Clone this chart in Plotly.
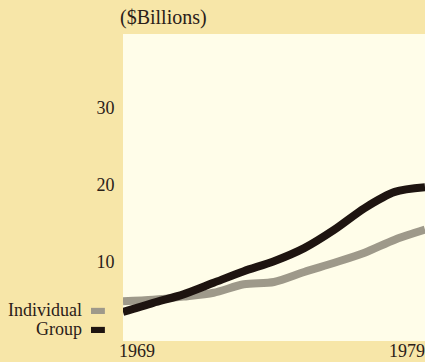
import plotly.graph_objects as go

years = list(range(1969, 1980))
individual = [4.9, 5.1, 5.5, 6.0, 7.1, 7.4, 8.7, 9.9, 11.2, 12.9, 14.2]
group = [3.5, 4.7, 5.8, 7.3, 8.8, 10.1, 11.8, 14.2, 17.0, 19.1, 19.7]
y_ticks = [10, 20, 30]
x_labels = ["1969", "1979"]
series_names = ["Individual", "Group"]

PAPER = "#f7e6a8"
PLOT = "#fffde9"
GRAY = "#9e998a"
BLACK = "#1e1410"
TEXT = "#2a2018"
FONT = "Liberation Serif, Times New Roman, serif"

fig = go.Figure()
fig.add_trace(go.Scatter(x=years, y=individual, mode="lines", name=series_names[0],
                         line=dict(color=GRAY, width=8, shape="spline", smoothing=0.8)))
fig.add_trace(go.Scatter(x=years, y=group, mode="lines", name=series_names[1],
                         line=dict(color=BLACK, width=8, shape="spline", smoothing=0.8)))

fig.update_layout(
    width=425, height=362,
    margin=dict(l=123, r=0, t=34, b=21),
    paper_bgcolor=PAPER, plot_bgcolor=PLOT,
    showlegend=False,
    font=dict(family=FONT, size=18, color=TEXT),
    xaxis=dict(range=[years[0], years[-1]], showgrid=False, zeroline=False,
               showticklabels=False, ticks="", showline=False),
    yaxis=dict(range=[-0.26, 39.6], showgrid=False, zeroline=False,
               tickvals=y_ticks, ticktext=[str(v) for v in y_ticks],
               ticks="outside", ticklen=4, tickcolor="rgba(0,0,0,0)",
               showline=False, tickfont=dict(family=FONT, size=18, color=TEXT)),
)

annotations = [
    dict(text="($Billions)", xref="paper", yref="paper", x=0, y=1, xanchor="left",
         yanchor="bottom", xshift=-5, yshift=3, showarrow=False,
         font=dict(family=FONT, size=20, color=TEXT)),
    dict(text=x_labels[0], xref="paper", yref="paper", x=0, y=0, xanchor="left",
         yanchor="top", xshift=-6, yshift=2, showarrow=False,
         font=dict(family=FONT, size=18, color=TEXT)),
    dict(text=x_labels[1], xref="paper", yref="paper", x=1, y=0, xanchor="right",
         yanchor="top", xshift=2, yshift=2, showarrow=False,
         font=dict(family=FONT, size=18, color=TEXT)),
    dict(text=series_names[0], xref="paper", yref="paper", x=0, y=0.101,
         xanchor="right", yanchor="middle", xshift=-39, showarrow=False,
         font=dict(family=FONT, size=18, color=TEXT)),
    dict(text=series_names[1], xref="paper", yref="paper", x=0, y=0.039,
         xanchor="right", yanchor="middle", xshift=-39, showarrow=False,
         font=dict(family=FONT, size=18, color=TEXT)),
]
fig.update_layout(annotations=annotations)

# legend swatches (paper coordinates, just left of the plot area)
fig.add_shape(type="rect", xref="paper", yref="paper", x0=-0.106, x1=-0.060,
              y0=0.088, y1=0.108, fillcolor=GRAY, line=dict(width=0))
fig.add_shape(type="rect", xref="paper", yref="paper", x0=-0.106, x1=-0.060,
              y0=0.026, y1=0.046, fillcolor=BLACK, line=dict(width=0))

fig.write_html("out.html")
